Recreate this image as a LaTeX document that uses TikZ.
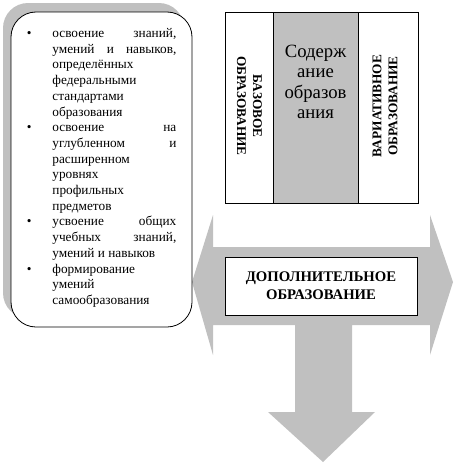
\documentclass[tikz,border=0pt]{standalone}
\usepackage{fontspec}
\setmainfont{Liberation Serif}
\definecolor{boxgray}{HTML}{C0C0C0}
\newcommand{\bul}{\makebox[25.5pt][l]{\textbullet}}
\newcommand{\ind}{\hspace*{25.5pt}}
\newcommand{\just}[1]{\makebox[124pt][s]{#1}}

\begin{document}
\begin{tikzpicture}[x=1pt, y=-1pt, line width=0.8pt]
		%%%%% START %%%%%
		\useasboundingbox (0, 0) rectangle (454, 463);
		
		% big gray arrow
		\fill[boxgray] (192, 282) -- (213, 215) -- (213, 247) -- (430, 247) -- (430, 215) -- (453, 282)
			-- (430, 355) -- (430, 325) -- (352, 325) -- (352, 412) -- (375, 412) -- (323, 462)
			-- (268, 412) -- (295, 412) -- (295, 325) -- (213, 325) -- (213, 355) -- cycle;
		
		% content columns
		\draw[fill=boxgray] (273, 12) rectangle (358, 203);
		\draw (225, 12) rectangle (418, 203);
		
		\node[rotate=-90, align=center, inner sep=0, font=\fontsize{13.3}{16}\selectfont\bfseries] (base) at (249.5, 106) {БАЗОВОЕ\\ОБРАЗОВАНИЕ};
		\node[anchor=north, align=center, inner sep=0, font=\fontsize{18.7}{20.5}\selectfont] (content) at (315.5, 44.5) {Содерж\\ание\\образов\\ания};
		\node[rotate=90, align=center, inner sep=0, font=\fontsize{13.3}{16}\selectfont\bfseries] (variative) at (385, 106) {ВАРИАТИВНОЕ\\ОБРАЗОВАНИЕ};
		
		\node[draw, fill=white, minimum width=192pt, minimum height=58pt, align=center, font=\fontsize{14.7}{18}\selectfont\bfseries] (extra) at (321, 286) {ДОПОЛНИТЕЛЬНОЕ\\ОБРАЗОВАНИЕ};
		
		% goals box with shadow
		\fill[boxgray, rounded corners=25pt] (3, 3) rectangle (184, 318);
		\draw[fill=white, rounded corners=25pt] (11, 12) rectangle (192, 327);
		
		\node[anchor=north west, align=left, inner sep=0, font=\fontsize{13.3}{15.7}\selectfont] (goals) at (26.5, 28) {%
			\bul\just{освоение знаний,}\\
			\ind\just{умений и навыков,}\\
			\ind определённых\\
			\ind федеральными\\
			\ind стандартами\\
			\ind образования\\
			\bul\just{освоение на}\\
			\ind\just{углубленном и}\\
			\ind расширенном\\
			\ind уровнях\\
			\ind профильных\\
			\ind предметов\\
			\bul\just{усвоение общих}\\
			\ind\just{учебных знаний,}\\
			\ind умений и навыков\\
			\bul формирование\\
			\ind умений\\
			\ind самообразования};
		
		%%%%% END %%%%%
	\end{tikzpicture}
\end{document}
